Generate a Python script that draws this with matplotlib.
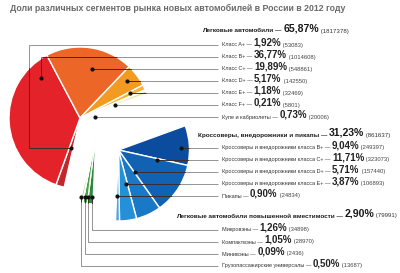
import matplotlib
matplotlib.use('Agg')
import matplotlib.pyplot as plt
import numpy as np

plt.rcParams['font.family'] = ['Liberation Sans', 'DejaVu Sans']

# ---- data ----
group_names = ['Легковые автомобили',
               'Кроссоверы, внедорожники и пикапы',
               'Легковые автомобили повышенной вместимости']
group_shares = [65.87, 31.23, 2.90]
group_counts = [1817378, 861637, 79991]

car_labels = ['Класс A+', 'Класс B+', 'Класс C+', 'Класс D+', 'Класс E+',
              'Класс F+', 'Купе и кабриолеты']
car_shares = [1.92, 36.77, 19.89, 5.17, 1.18, 0.21, 0.73]
car_counts = [53083, 1014608, 548861, 142550, 32469, 5801, 20006]

suv_labels = ['Кроссоверы и внедорожники класса B+',
              'Кроссоверы и внедорожники класса C+',
              'Кроссоверы и внедорожники класса D+',
              'Кроссоверы и внедорожники класса E+',
              'Пикапы']
suv_shares = [9.04, 11.71, 5.71, 3.87, 0.90]
suv_counts = [249397, 323073, 157440, 106893, 24834]

mpv_labels = ['Микровэны', 'Компактвэны', 'Минивэны', 'Грузопассажирские универсалы']
mpv_shares = [1.26, 1.05, 0.09, 0.50]
mpv_counts = [34898, 28970, 2436, 13687]

title = 'Доли различных сегментов рынка новых автомобилей в России в 2012 году'

# ---- styles / layout (pixel coords, y down) ----
car_colors = ['#c1272d', '#e42229', '#ec6628', '#f39a22', '#f7b52e', '#f3e03a', '#ece6a6']
suv_colors = ['#0c4c9e', '#1262b3', '#1a79c6', '#2490d7', '#47a7de']
mpv_colors = ['#2a8a3c', '#4b9f42', '#6eb04c', '#92c35e']

W, H = 400, 273
R = 71
START = 20


def py(y):
    return H - y


def pct(v):
    return f'{v:.2f}'.replace('.', ',') + '%'


fig = plt.figure(figsize=(4.0, 2.73), dpi=100)
ax = fig.add_axes([0, 0, 1, 1])

# pie groups drawn clockwise: suv, mpv, cars
groups = [
    (suv_shares, suv_colors, (118.5, 150)),
    (mpv_shares, mpv_colors, (96, 133)),
    (car_shares, car_colors, (80, 118)),
]
all_wedges = []
start = START
for shares, colors, c in groups:
    wedges, _ = ax.pie(np.array(shares) / 100, startangle=start, counterclock=False,
                       normalize=False, radius=R, center=(c[0], py(c[1])),
                       colors=colors,
                       wedgeprops=dict(edgecolor='white', linewidth=1.0))
    all_wedges += wedges
    start -= sum(shares) * 3.6

ax.set_xlim(0, W)
ax.set_ylim(0, H)
ax.set_aspect('equal')
ax.axis('off')

# ---- leader lines ----
LX = 218
car_y = [45 + 12 * i for i in range(len(car_labels))]
suv_y = [148 + 12 * i for i in range(len(suv_labels))]
mpv_y = [230 + 12 * i for i in range(len(mpv_labels))]

paths = []
# cars
paths.append([(71, 148), (28.5, 148), (28.5, car_y[0]), (LX, car_y[0])])
paths.append([(41, 77.5), (41, car_y[1]), (LX, car_y[1])])
for x, y in zip([91.7, 127, 130, 115, 95], car_y[2:]):
    paths.append([(x, y), (LX, y)])
# crossovers
for x, y in zip([181, 157, 135, 126, 117], suv_y):
    paths.append([(x, y), (LX, y)])
# vans
for x, y in zip([92.2, 88.3, 84.5, 81.0], mpv_y):
    paths.append([(x, 197), (x, y), (LX, y)])

for p in paths:
    xs = [q[0] for q in p]
    ys = [py(q[1]) for q in p]
    ax.plot(xs, ys, color='#939393', lw=0.7, solid_capstyle='butt', zorder=3)
    for w in all_wedges:
        ln, = ax.plot(xs, ys, color='#2a1a1a', lw=0.7, alpha=0.85, zorder=4)
        ln.set_clip_path(w)
    ax.plot(xs[0], ys[0], 'o', ms=2.0, color='#111111', zorder=5)

# ---- labels ----
def rich_label(x, y, parts):
    """parts: list of (text, size, weight, color)"""
    t = None
    for text, size, weight, color in parts:
        if t is None:
            t = ax.text(x, py(y), text, fontsize=size, fontweight=weight, color=color,
                        va='center', ha='left', zorder=6)
        else:
            t = ax.annotate(text, xy=(1, 0), xycoords=t, va='bottom', ha='left',
                            fontsize=size, fontweight=weight, color=color, zorder=6)
    return t


def sub_label(y, name, share, count):
    rich_label(222, y, [(name + ' — ', 4.0, 'normal', '#333333'),
                        (pct(share), 7.0, 'bold', '#222222'),
                        (f' ({count})', 4.2, 'normal', '#444444')])


def head_label(x, y, name, share, count):
    rich_label(x, y, [(name + ' — ', 4.6, 'bold', '#1a1a1a'),
                      (pct(share), 7.6, 'bold', '#1a1a1a'),
                      (f' ({count})', 4.4, 'normal', '#333333')])


head_label(202, 31, group_names[0], group_shares[0], group_counts[0])
for y, n, s, c in zip(car_y, car_labels, car_shares, car_counts):
    sub_label(y, n, s, c)

head_label(198, 135, group_names[1], group_shares[1], group_counts[1])
for y, n, s, c in zip(suv_y, suv_labels, suv_shares, suv_counts):
    sub_label(y, n, s, c)

head_label(176, 216, group_names[2], group_shares[2], group_counts[2])
for y, n, s, c in zip(mpv_y, mpv_labels, mpv_shares, mpv_counts):
    sub_label(y, n, s, c)

ax.text(10, py(8), title, fontsize=6.3, fontweight='bold', color='#6a6a6a',
        va='center', ha='left')

fig.savefig('out.png', dpi=100)
